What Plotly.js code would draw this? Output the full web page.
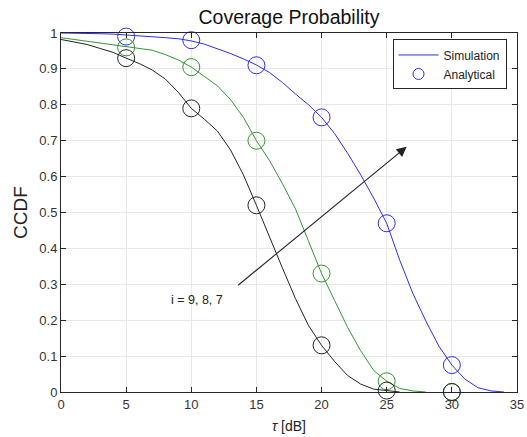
<!DOCTYPE html>
<html>
<head>
<meta charset="utf-8">
<script src="https://cdn.plot.ly/plotly-3.0.1.min.js"></script>
<style>html,body{margin:0;padding:0;background:#fff;}#chart{width:527px;height:437px;}</style>
</head>
<body>
<div id="chart"></div>
<script>
// Simulation (lines)
var tauSim = [0,1,2,3,4,5,6,7,8,9,10,11,12,13,14,15,16,17,18,19,20,21,22,23,24,25,26,27,28,29,30,31,32,33,34];
var simI7 = [1.0,1.0,0.999,0.998,0.997,0.995,0.993,0.99,0.987,0.984,0.978,0.969,0.957,0.943,0.928,0.911,0.89,0.862,0.83,0.80,0.765,0.72,0.665,0.605,0.54,0.47,0.367,0.275,0.198,0.128,0.075,0.036,0.012,0.003,0.0];
var simI8 = [0.987,0.982,0.977,0.972,0.966,0.961,0.958,0.952,0.94,0.925,0.905,0.88,0.853,0.815,0.765,0.70,0.645,0.58,0.51,0.42,0.33,0.255,0.18,0.115,0.06,0.03,0.01,0.003,0.0];
var simI9 = [0.982,0.975,0.968,0.957,0.946,0.93,0.915,0.897,0.872,0.835,0.79,0.76,0.727,0.675,0.605,0.52,0.43,0.345,0.26,0.185,0.13,0.085,0.046,0.022,0.008,0.003,0.0];
// Analytical (circles)
var tauAna = [5,10,15,20,25,30];
var anaI7 = [0.99,0.98,0.91,0.765,0.47,0.075];
var anaI8 = [0.96,0.905,0.70,0.33,0.03,0.0];
var anaI9 = [0.93,0.79,0.52,0.13,0.004,0.0];

var cBlue = 'rgb(45,45,235)', cGreen = 'rgb(50,150,50)', cBlack = 'rgb(35,35,35)';
var F = 'Liberation Sans, Arial, sans-serif';

function simTrace(y, c, name, show){
  return {x: tauSim.slice(0, y.length), y: y, mode: 'lines', type: 'scatter',
    line: {color: c, width: 1}, name: name, showlegend: show, hoverinfo: 'skip'};
}
function anaTrace(y, c, name){
  return {x: tauAna, y: y, mode: 'markers', type: 'scatter', cliponaxis: false,
    marker: {symbol: 'circle-open', size: 17, color: c, line: {color: c, width: 1}},
    name: name, showlegend: false, hoverinfo: 'skip'};
}

var data = [
  simTrace(simI7, cBlue, 'Simulation', true),
  // legend entry for the analytical circles (no points of its own)
  {x: [null], y: [null], mode: 'markers', type: 'scatter', name: 'Analytical', showlegend: true,
   marker: {symbol: 'circle-open', size: 11, color: cBlue, line: {color: cBlue, width: 1}}, hoverinfo: 'skip'},
  anaTrace(anaI7, cBlue, 'ana7'),
  simTrace(simI8, cGreen, 'sim8', false),
  anaTrace(anaI8, cGreen, 'ana8'),
  simTrace(simI9, cBlack, 'sim9', false),
  anaTrace(anaI9, cBlack, 'ana9')
];

var axisCommon = {
  showline: true, mirror: 'ticks', linecolor: '#262626', linewidth: 1,
  ticks: 'inside', ticklen: 5, tickcolor: '#262626', tickwidth: 1,
  showgrid: true, gridcolor: '#e8e8e8', gridwidth: 1, zeroline: false,
  tickfont: {family: F, size: 13, color: '#333'}
};

var layout = {
  width: 527, height: 437,
  margin: {l: 61, r: 10, t: 33, b: 45},
  paper_bgcolor: '#fff', plot_bgcolor: '#fff',
  title: {text: 'Coverage Probability', font: {family: F, size: 19.5, color: '#111'},
    x: 0.5, xref: 'paper', xanchor: 'center', y: 0.96, yref: 'container', yanchor: 'middle'},
  xaxis: Object.assign({}, axisCommon, {range: [0, 35], tickvals: [0,5,10,15,20,25,30,35],
    title: {text: '<i>τ</i> [dB]', font: {family: F, size: 14, color: '#222'}, standoff: 10}}),
  yaxis: Object.assign({}, axisCommon, {range: [0, 1], tickvals: [0,0.1,0.2,0.3,0.4,0.5,0.6,0.7,0.8,0.9,1],
    ticktext: ['0','0.1','0.2','0.3','0.4','0.5','0.6','0.7','0.8','0.9','1'],
    title: {text: 'CCDF', font: {family: F, size: 19, color: '#222'}, standoff: 6}}),
  showlegend: true,
  legend: {x: 0.727, y: 0.982, xanchor: 'left', yanchor: 'top', bgcolor: '#fff',
    bordercolor: '#262626', borderwidth: 1, font: {family: F, size: 12, color: '#222'},
    tracegroupgap: 0, itemwidth: 40},
  annotations: [
    {x: 26.53, y: 0.683, ax: 13.48, ay: 0.294, axref: 'x', ayref: 'y', xref: 'x', yref: 'y',
     text: '', showarrow: true, arrowhead: 2, arrowsize: 1.8, arrowwidth: 1.1, arrowcolor: '#222'},
    {x: 10.41, y: 0.257, xref: 'x', yref: 'y', text: 'i = 9, 8, 7', showarrow: false,
     font: {family: F, size: 12.5, color: '#222'}}
  ]
};

Plotly.newPlot('chart', data, layout, {staticPlot: true, displayModeBar: false});
</script>
</body>
</html>
